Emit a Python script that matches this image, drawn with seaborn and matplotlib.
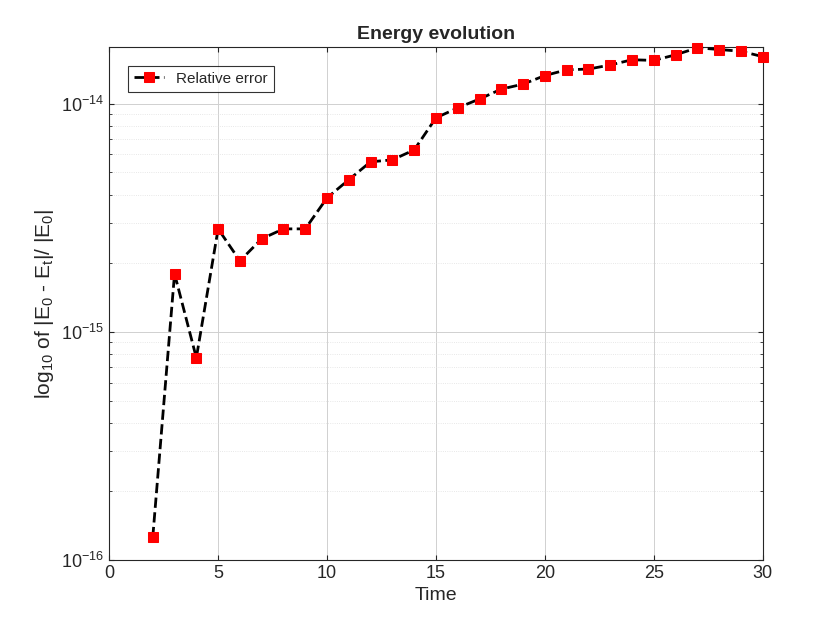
import numpy as np
import matplotlib
matplotlib.use("Agg")
import matplotlib.pyplot as plt
import seaborn as sns

time = [2, 3, 4, 5, 6, 7, 8, 9, 10, 11, 12, 13, 14, 15, 16, 17, 18, 19, 20,
        21, 22, 23, 24, 25, 26, 27, 28, 29, 30]
rel_error = [1.26e-16, 1.8e-15, 7.7e-16, 2.83e-15, 2.05e-15, 2.56e-15, 2.83e-15,
             2.83e-15, 3.87e-15, 4.65e-15, 5.57e-15, 5.68e-15, 6.28e-15, 8.68e-15,
             9.6e-15, 1.05e-14, 1.16e-14, 1.22e-14, 1.33e-14, 1.41e-14, 1.42e-14,
             1.48e-14, 1.56e-14, 1.55e-14, 1.64e-14, 1.76e-14, 1.73e-14, 1.70e-14,
             1.61e-14]

sns.set_style("ticks")
plt.rcParams['font.family'] = ['Liberation Sans', 'DejaVu Sans']
plt.rcParams['mathtext.default'] = 'regular'

fig = plt.figure(figsize=(8.4, 6.3), dpi=100)
ax = fig.add_axes([0.13, 0.111, 0.778, 0.814])

sns.lineplot(x=time, y=rel_error, ax=ax, color='black', lw=2, linestyle='--',
             marker='s', markersize=7, markerfacecolor='red', markeredgecolor='red',
             label='Relative error', clip_on=False, zorder=5)

ax.set_yscale('log')
ax.set_xlim(0, 30)
ax.set_ylim(1e-16, 1.77e-14)
ax.set_xticks(range(0, 31, 5))
ax.grid(True, which='major', color='#d0d0d0', lw=0.7)
ax.grid(True, which='minor', color='#e0e0e0', lw=0.6, linestyle=':')
for s in ax.spines.values():
    s.set_visible(True)
    s.set_color('#262626')
    s.set_linewidth(0.8)
ax.tick_params(which='both', direction='in', top=True, right=True, labelsize=13, colors='#262626')

ax.set_title('Energy evolution', fontsize=14, fontweight='bold')
ax.set_xlabel('Time', fontsize=14)
ax.set_ylabel(r'log$_{10}$ of |E$_0$ - E$_t$|/ |E$_0$|', fontsize=15)
leg = ax.legend(loc='upper left', fontsize=11, frameon=True, fancybox=False,
                edgecolor='black', borderaxespad=1.2)
leg.get_frame().set_linewidth(0.8)

fig.savefig('out.png', dpi=100)
